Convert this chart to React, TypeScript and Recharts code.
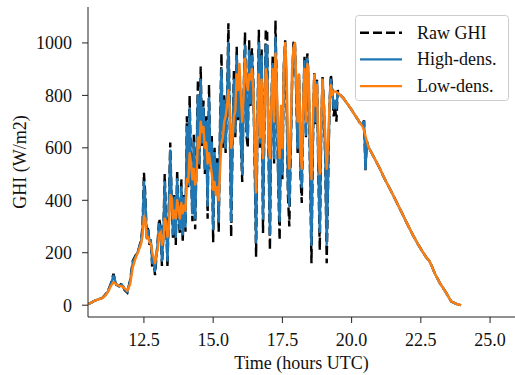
import React from 'react';
import { LineChart, Line, XAxis, YAxis, Legend } from 'recharts';

// time in hours UTC
const times = [
  10.48, 10.6, 10.7, 10.8, 10.9, 11.0, 11.1, 11.2, 11.3, 11.4, 11.5, 11.6, 11.7, 11.8, 11.9, 12.0, 12.1, 12.2, 12.3, 12.4,
  12.45, 12.5, 12.55, 12.6, 12.65, 12.7, 12.75, 12.8, 12.85, 12.9,
  12.95, 13.0, 13.05, 13.1, 13.15, 13.2, 13.25, 13.3, 13.35, 13.4,
  13.45, 13.5, 13.55, 13.6, 13.65, 13.7, 13.75, 13.8, 13.85, 13.9,
  13.95, 14.0, 14.05, 14.1, 14.15, 14.2, 14.25, 14.3, 14.35, 14.4,
  14.45, 14.5, 14.55, 14.6, 14.65, 14.7, 14.75, 14.8, 14.85, 14.9,
  14.95, 15.0, 15.05, 15.1, 15.15, 15.2, 15.25, 15.3, 15.35, 15.4,
  15.45, 15.5, 15.55, 15.6, 15.65, 15.7, 15.75, 15.8, 15.85, 15.9,
  15.95, 16.0, 16.05, 16.1, 16.15, 16.2, 16.25, 16.3, 16.35, 16.4,
  16.45, 16.5, 16.55, 16.6, 16.65, 16.7, 16.75, 16.8, 16.85, 16.9,
  16.95, 17.0, 17.05, 17.1, 17.15, 17.2, 17.25, 17.3, 17.35, 17.4,
  17.45, 17.5, 17.55, 17.6, 17.65, 17.7, 17.75, 17.8, 17.85, 17.9,
  17.95, 18.0, 18.05, 18.1, 18.15, 18.2, 18.25, 18.3, 18.35, 18.4,
  18.45, 18.5, 18.55, 18.6, 18.65, 18.7, 18.75, 18.8, 18.85, 18.9,
  18.95, 19.0, 19.05, 19.1, 19.15, 19.2, 19.25, 19.3, 19.35, 19.4,
  19.45, 19.5, 19.55, 19.6,
  19.7, 19.8, 19.9, 20.0, 20.1, 20.2, 20.3, 20.4, 20.45, 20.5, 20.55, 20.6,
  20.8, 21.0, 21.2, 21.4, 21.6, 21.8, 22.0, 22.2, 22.4, 22.6, 22.7, 22.8, 22.9, 23.0, 23.2, 23.4, 23.6, 23.8, 23.95,
];

const rawGhi = [
  4, 10, 16, 20, 24, 28, 40, 55, 80, 120, 78, 72, 85, 58, 48, 95, 170, 190, 210, 250,
  300, 505, 420, 260, 300, 230, 250, 140, 170, 115,
  180, 250, 330, 300, 150, 260, 500, 330, 145, 380,
  620, 400, 250, 420, 230, 515, 330, 270, 480, 240,
  420, 280, 720, 450, 800, 520, 320, 650, 290, 560,
  860, 520, 910, 600, 780, 500, 720, 330, 840, 520,
  650, 240, 600, 430, 560, 280, 700, 960, 600, 800,
  580, 770, 1075, 700, 260, 620, 900, 640, 985, 700,
  900, 620, 470, 800, 1040, 650, 600, 1010, 760, 980,
  850, 540, 185, 700, 1050, 600, 980, 275, 690, 1050,
  1050, 580, 210, 760, 950, 540, 1085, 790, 460, 248,
  700, 480, 900, 1010, 800, 420, 300, 580, 850, 1000,
  1010, 810, 580, 880, 500, 390, 760, 950, 640, 960,
  860, 500, 160, 600, 885, 690, 860, 500, 210, 650,
  870, 760, 540, 160, 460, 760, 880, 830, 720, 760,
  700, 820, 805, 800,
  790, 775, 760, 745, 728, 712, 695, 690, 705, 515, 625, 605,
  565, 525, 480, 440, 398, 355, 312, 270, 232, 198, 182, 170, 148, 122, 82, 50, 14, 4, 0,
];

const highDens = [
  4, 10, 16, 20, 24, 28, 38, 52, 78, 112, 80, 72, 80, 60, 50, 90, 165, 185, 210, 245,
  290, 470, 400, 255, 285, 240, 245, 160, 175, 130,
  190, 240, 310, 290, 170, 260, 470, 320, 170, 360,
  590, 410, 270, 410, 260, 480, 340, 290, 450, 270,
  410, 300, 680, 460, 750, 520, 350, 620, 330, 540,
  800, 540, 860, 620, 750, 520, 700, 380, 790, 530,
  620, 290, 580, 450, 540, 320, 670, 900, 620, 780,
  600, 760, 1000, 700, 320, 630, 860, 660, 950, 720,
  870, 640, 500, 780, 990, 670, 640, 970, 770, 950,
  840, 560, 240, 700, 1000, 620, 950, 330, 700, 990,
  990, 600, 270, 760, 920, 560, 1020, 800, 480, 320,
  720, 500, 910, 995, 820, 450, 380, 600, 850, 980,
  990, 820, 600, 870, 520, 450, 760, 930, 650, 940,
  860, 520, 230, 620, 870, 700, 850, 520, 280, 660,
  860, 760, 560, 230, 480, 760, 860, 820, 750, 780,
  750, 810, 805, 800,
  790, 775, 760, 745, 728, 712, 695, 690, 700, 520, 625, 605,
  565, 525, 480, 440, 398, 355, 312, 270, 232, 198, 182, 170, 148, 122, 82, 50, 14, 4, 0,
];

const lowDens = [
  4, 10, 16, 20, 23, 27, 36, 50, 72, 88, 80, 74, 72, 65, 55, 80, 145, 180, 205, 235,
  265, 340, 330, 255, 260, 240, 235, 200, 185, 160,
  190, 215, 270, 280, 230, 250, 330, 320, 260, 300,
  420, 410, 330, 360, 330, 400, 370, 330, 390, 350,
  380, 360, 480, 470, 580, 540, 480, 520, 460, 480,
  640, 600, 700, 660, 680, 600, 620, 540, 580, 540,
  500, 440, 470, 420, 450, 400, 520, 620, 640, 700,
  720, 760, 820, 740, 600, 640, 720, 740, 880, 820,
  920, 800, 700, 800, 940, 860, 820, 880, 860, 900,
  820, 620, 430, 700, 880, 640, 860, 560, 720, 900,
  860, 620, 560, 760, 900, 700, 960, 820, 640, 560,
  760, 600, 900, 1000, 900, 620, 520, 660, 900, 980,
  1000, 860, 700, 880, 600, 520, 760, 900, 700, 920,
  880, 620, 480, 700, 880, 760, 840, 580, 500, 700,
  860, 760, 640, 520, 620, 760, 840, 800, 815, 815,
  812, 810, 805, 800,
  790, 775, 760, 745, 728, 712, 695, 680, 665, 645, 625, 605,
  565, 525, 480, 440, 398, 355, 312, 270, 232, 198, 182, 170, 148, 122, 82, 50, 14, 4, 0,
];

const xTicks = [12.5, 15, 17.5, 20, 22.5, 25];
const yTicks = [0, 200, 400, 600, 800, 1000];
const seriesNames = ['Raw GHI', 'High-dens.', 'Low-dens.'];
const seriesColors = ['#000000', '#1f77b4', '#ff7f0e'];

const data = times.map((t, i) => ({ t, raw: rawGhi[i], high: highDens[i], low: lowDens[i] }));

const FONT = '"Liberation Serif", "Times New Roman", Times, serif';
const TEXT = '#111';
const LW = 2.4;

function XTick(props: any) {
  const { x, y, payload } = props;
  return (
    <text x={x} y={y} dy="0.71em" textAnchor="middle" fontSize={18} fontFamily={FONT} fill={TEXT}>
      {Number(payload.value).toFixed(1)}
    </text>
  );
}

function YTick(props: any) {
  const { x, y, payload } = props;
  return (
    <text x={x} y={y} dy="0.355em" textAnchor="end" fontSize={18} fontFamily={FONT} fill={TEXT}>
      {payload.value}
    </text>
  );
}

function LegendBox() {
  const dashes = ['9 4', undefined, undefined];
  return (
    <svg width={155} height={87} style={{ display: 'block' }}>
      <rect x={0.5} y={0.5} width={153} height={85} rx={3} fill="#fff" fillOpacity={0.8} stroke="#cccccc" />
      {seriesNames.map((name, i) => {
        const cy = 17.7 + i * 26.7;
        return (
          <g key={name}>
            <line x1={5} x2={47} y1={cy} y2={cy} stroke={seriesColors[i]} strokeWidth={LW} strokeDasharray={dashes[i]} />
            <text x={62} y={cy} dominantBaseline="central" fontSize={18} fontFamily={FONT} fill={TEXT}>
              {name}
            </text>
          </g>
        );
      })}
    </svg>
  );
}

function YLabel() {
  return (
    <text
      x={20}
      y={162}
      transform="rotate(-90 20 162)"
      textAnchor="middle"
      dominantBaseline="central"
      fontSize={18}
      fontFamily={FONT}
      fill={TEXT}
    >
      GHI (W/m2)
    </text>
  );
}

export default function App() {
  return (
    <div style={{ position: 'absolute', left: 0, top: 0, width: 515, height: 375, background: '#fff', overflow: 'hidden' }}>
      <LineChart width={515} height={375} data={data} margin={{ top: 7, right: 0, bottom: 0, left: 0 }}>
        <XAxis
          dataKey="t"
          type="number"
          domain={[10.48, 25.9]}
          ticks={xTicks}
          allowDataOverflow
          height={58}
          tickSize={6}
          tickMargin={10}
          tick={<XTick />}
          stroke="#222"
          tickLine={{ stroke: '#222' }}
          label={{ value: 'Time (hours UTC)', position: 'insideBottom', offset: 6, fontSize: 18, fill: TEXT, fontFamily: FONT }}
        />
        <XAxis
          xAxisId="top"
          orientation="top"
          dataKey="t"
          type="number"
          domain={[10.48, 25.9]}
          height={0}
          tick={false}
          tickLine={false}
          stroke="#222"
        />
        <YAxis
          type="number"
          domain={[-45, 1137]}
          ticks={yTicks}
          allowDataOverflow
          width={88}
          tickSize={6}
          tickMargin={10}
          tick={<YTick />}
          stroke="#222"
          tickLine={{ stroke: '#222' }}
          label={<YLabel />}
        />
        <Legend
          layout="vertical"
          align="center"
          verticalAlign="middle"
          content={() => <LegendBox />}
          wrapperStyle={{ position: 'absolute', left: 355, top: 15, width: 155, height: 87 }}
        />
        <Line
          type="linear"
          dataKey="raw"
          name={seriesNames[0]}
          stroke={seriesColors[0]}
          strokeWidth={LW}
          strokeDasharray="9 4"
          dot={false}
          isAnimationActive={false}
        />
        <Line
          type="linear"
          dataKey="high"
          name={seriesNames[1]}
          stroke={seriesColors[1]}
          strokeWidth={LW}
          strokeLinejoin="round"
          dot={false}
          isAnimationActive={false}
        />
        <Line
          type="linear"
          dataKey="low"
          name={seriesNames[2]}
          stroke={seriesColors[2]}
          strokeWidth={LW}
          strokeLinejoin="round"
          dot={false}
          isAnimationActive={false}
        />
      </LineChart>
    </div>
  );
}
